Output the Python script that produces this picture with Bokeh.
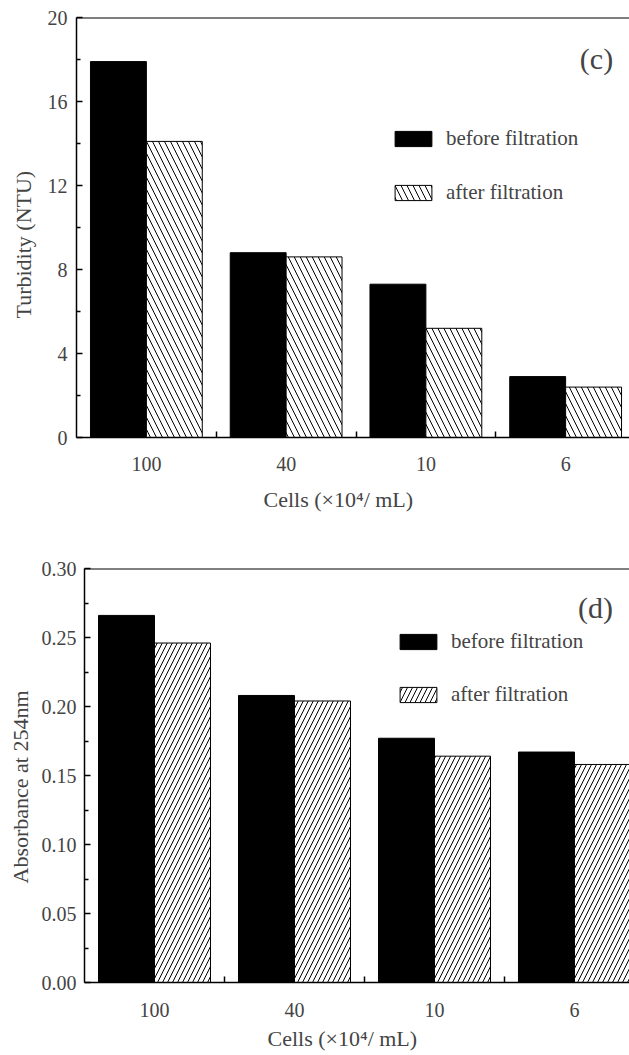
import numpy as np
from bokeh.plotting import figure
from bokeh.models import (Range1d, FixedTicker, NumeralTickFormatter, Legend, LegendItem,
                          Label, Span, ColumnDataSource, Title)
from bokeh.embed import file_html
from bokeh.resources import INLINE

# ---------------- data ----------------
categories = ["100", "40", "10", "6"]
turb_before = [17.9, 8.8, 7.3, 2.9]
turb_after = [14.1, 8.6, 5.2, 2.4]
abs_before = [0.266, 0.208, 0.177, 0.167]
abs_after = [0.246, 0.204, 0.164, 0.158]
turb_ticks = [0, 4, 8, 12, 16, 20]
turb_minor = [2, 6, 10, 14, 18]
abs_ticks = [0.00, 0.05, 0.10, 0.15, 0.20, 0.25, 0.30]
abs_minor = [0.025, 0.075, 0.125, 0.175, 0.225, 0.275]
legend_labels = ["before filtration", "after filtration"]
x_title = "Cells (\u00d710\u2074/ mL)"

FONT = "Liberation Serif"
BAR_W = 0.4


def make_panel(before, after, yticks, yminor, ymax, ytitle, tag, hatch, hatch_scale,
               height, b_left, b_top, b_bottom, x_end, legend_xy, legend_spacing, tag_xy,
               lab_standoff, xt_offset, xt_standoff, ylab_standoff, yt_offset, yt_standoff,
               fmt=None):
    pos = np.arange(1, len(categories) + 1)
    src = ColumnDataSource(dict(xb=pos - BAR_W / 2, xa=pos + BAR_W / 2,
                                before=before, after=after))
    p = figure(width=629, height=height, output_backend="svg", toolbar_location=None,
               x_range=Range1d(0.5, x_end), y_range=Range1d(0, ymax),
               min_border_left=b_left, min_border_right=0, min_border_top=b_top,
               min_border_bottom=b_bottom, outline_line_color=None)
    p.grid.visible = False

    rb = p.vbar(x="xb", top="before", width=BAR_W, source=src, fill_color="black",
                line_color="black", line_width=1)
    ra = p.vbar(x="xa", top="after", width=BAR_W, source=src, fill_color="white",
                line_color="black", line_width=1, hatch_pattern=hatch,
                hatch_color="black", hatch_weight=1, hatch_scale=hatch_scale)

    # top spine
    p.add_layout(Span(location=ymax, dimension="width", line_color="black", line_width=2))

    xa = p.xaxis[0]
    xa.ticker = FixedTicker(ticks=[float(v) for v in pos],
                            minor_ticks=[float(v) + 0.5 for v in pos[:-1]])
    xa.major_label_overrides = {int(v): c for v, c in zip(pos, categories)}
    xa.major_tick_in = 0
    xa.major_tick_out = 0
    xa.minor_tick_in = 6
    xa.minor_tick_out = 0
    xa.axis_line_width = 1.5
    xa.minor_tick_line_width = 1.5
    xa.major_label_text_font = FONT
    xa.major_label_text_font_size = "20px"
    xa.major_label_standoff = lab_standoff

    ya = p.yaxis[0]
    ya.ticker = FixedTicker(ticks=yticks, minor_ticks=yminor)
    if fmt:
        ya.formatter = NumeralTickFormatter(format=fmt)
    ya.major_tick_in = 6
    ya.major_tick_out = 0
    ya.minor_tick_in = 4
    ya.minor_tick_out = 0
    ya.axis_line_width = 1.5
    ya.major_tick_line_width = 1.5
    ya.minor_tick_line_width = 1.5
    ya.major_label_text_font = FONT
    ya.major_label_text_font_size = "20px"
    ya.major_label_standoff = ylab_standoff

    p.add_layout(Title(text=x_title, align="left", offset=xt_offset, standoff=xt_standoff,
                       text_font=FONT, text_font_size="22px", text_font_style="normal"),
                 "below")
    p.add_layout(Title(text=ytitle, align="left", offset=yt_offset, standoff=yt_standoff,
                       text_font=FONT, text_font_size="22px", text_font_style="normal"),
                 "left")

    legend = Legend(items=[LegendItem(label=legend_labels[0], renderers=[rb]),
                           LegendItem(label=legend_labels[1], renderers=[ra])],
                    location=legend_xy, orientation="vertical",
                    border_line_color=None, background_fill_alpha=0,
                    padding=0, margin=0, spacing=legend_spacing,
                    glyph_width=46, glyph_height=19, label_height=19,
                    label_standoff=10, label_text_font=FONT,
                    label_text_font_size="21px")
    p.add_layout(legend)

    p.add_layout(Label(x=tag_xy[0], y=tag_xy[1], x_units="screen", y_units="screen",
                       text=tag, text_font=FONT, text_font_size="30px",
                       text_align="center", text_baseline="middle"))
    return p


p1 = make_panel(turb_before, turb_after, turb_ticks, turb_minor, 20, "Turbidity (NTU)",
                "(c)", "left_diagonal_line", 12,
                height=540, b_left=75, b_top=17, b_bottom=103, x_end=4.457,
                legend_xy=(314, 232), legend_spacing=29, tag_xy=(520, 379),
                lab_standoff=19, xt_offset=187, xt_standoff=22,
                ylab_standoff=9, yt_offset=119, yt_standoff=17)

p2 = make_panel(abs_before, abs_after, abs_ticks, abs_minor, 0.30, "Absorbance at 254nm",
                "(d)", "right_diagonal_line", 10,
                height=515, b_left=84, b_top=28, b_bottom=73, x_end=4.393,
                legend_xy=(311, 275), legend_spacing=28, tag_xy=(511, 375),
                lab_standoff=20, xt_offset=183, xt_standoff=9,
                ylab_standoff=8, yt_offset=99, yt_standoff=11,
                fmt="0.00")

open("out.html", "w").write(file_html([p1, p2], INLINE))
